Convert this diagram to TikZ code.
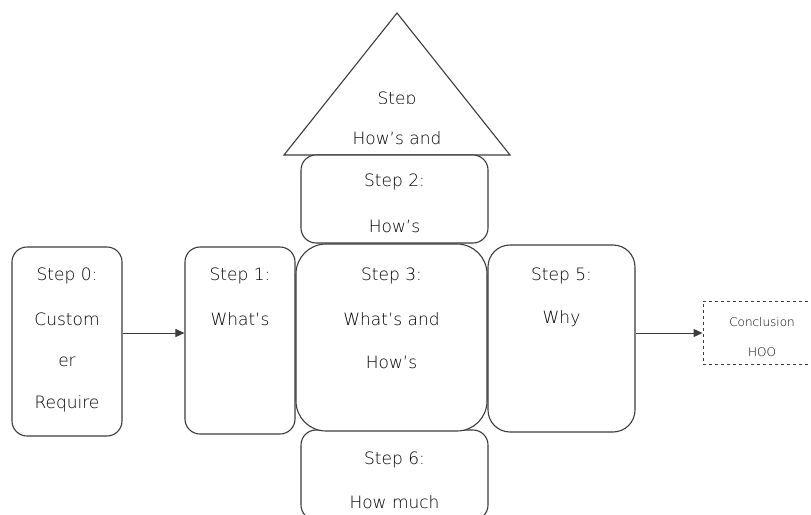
\documentclass[tikz,border=0pt]{standalone}
\usepackage{fontspec}
\setmainfont{DejaVu Sans ExtraLight}
\usetikzlibrary{arrows.meta}
\definecolor{edge}{HTML}{3C3C3C}
\newcommand{\ap}{\char"0027\relax}
\tikzset{
  stepbox/.style={draw=edge, line width=1.1pt, fill=white, inner sep=0pt},
  lbl/.style={font=\fontsize{17}{19}\selectfont, inner sep=0pt, text=black},
  small/.style={font=\fontsize{12}{14}\selectfont, inner sep=0pt, text=black},
  flow/.style={draw=edge, line width=1pt, -{Triangle[length=9pt,width=8pt]}}
}
\begin{document}
\begin{tikzpicture}[x=1pt,y=-1pt]
\useasboundingbox (0,0) rectangle (811,514);
\clip (0,0) rectangle (811,514);

% roof: triangle, its first line cut off by the text frame
\draw[edge, line width=1.1pt, fill=white] (284,155) -- (397,13) -- (510,155) -- cycle;
\begin{scope}
  \clip (284,80) rectangle (510,103.5);
  \node[lbl, anchor=base] (t1) at (397,104) {Step};
\end{scope}
\node[lbl] (t2) at (397,138) {How\ap s and};

% boxes
\node[stepbox, rounded corners=15pt, minimum width=187pt, minimum height=88pt] (s2) at (394.5,199) {};
\node[stepbox, rounded corners=15pt, minimum width=187pt, minimum height=90pt] (s6) at (394.5,475) {};
\node[stepbox, rounded corners=15pt, minimum width=110pt, minimum height=189pt] (s0) at (67,341.5) {};
\node[stepbox, rounded corners=15pt, minimum width=110pt, minimum height=187pt] (s1) at (240,340.5) {};
\node[stepbox, rounded corners=30pt, minimum width=191pt, minimum height=187pt] (s3) at (391.5,337.5) {};
\node[stepbox, rounded corners=22pt, minimum width=147pt, minimum height=187pt] (s5) at (561.5,338.5) {};
\node[draw=edge, line width=1pt, dashed, minimum width=120pt, minimum height=63pt, inner sep=0pt] (cc) at (763,332.5) {};

% texts
\node[lbl] at (67,276) {Step 0:};
\node[lbl] at (67,319) {Custom};
\node[lbl] at (67,362) {er};
\node[lbl] at (67,404) {Require};

\node[lbl] at (240,276) {Step 1:};
\node[lbl] at (240,319) {What\ap s};

\node[lbl] at (394.5,182) {Step 2:};
\node[lbl] at (394.5,226) {How\ap s};

\node[lbl] at (391.5,276) {Step 3:};
\node[lbl] at (391.5,319) {What\ap s and};
\node[lbl] at (391.5,362) {How\ap s};

\node[lbl] at (561.5,276) {Step 5:};
\node[lbl] at (561.5,319) {Why};

\node[lbl] at (394.5,460) {Step 6:};
\node[lbl] at (394.5,502) {How much};

\node[small] at (762,322) {Conclusion};
\node[small] at (762,352) {HOO};

% connectors
\draw[flow] (s0.east |- 0,333) -- (s1.west |- 0,333);
\draw[flow] (s5.east |- 0,333) -- (cc.west |- 0,333);
\end{tikzpicture}
\end{document}
